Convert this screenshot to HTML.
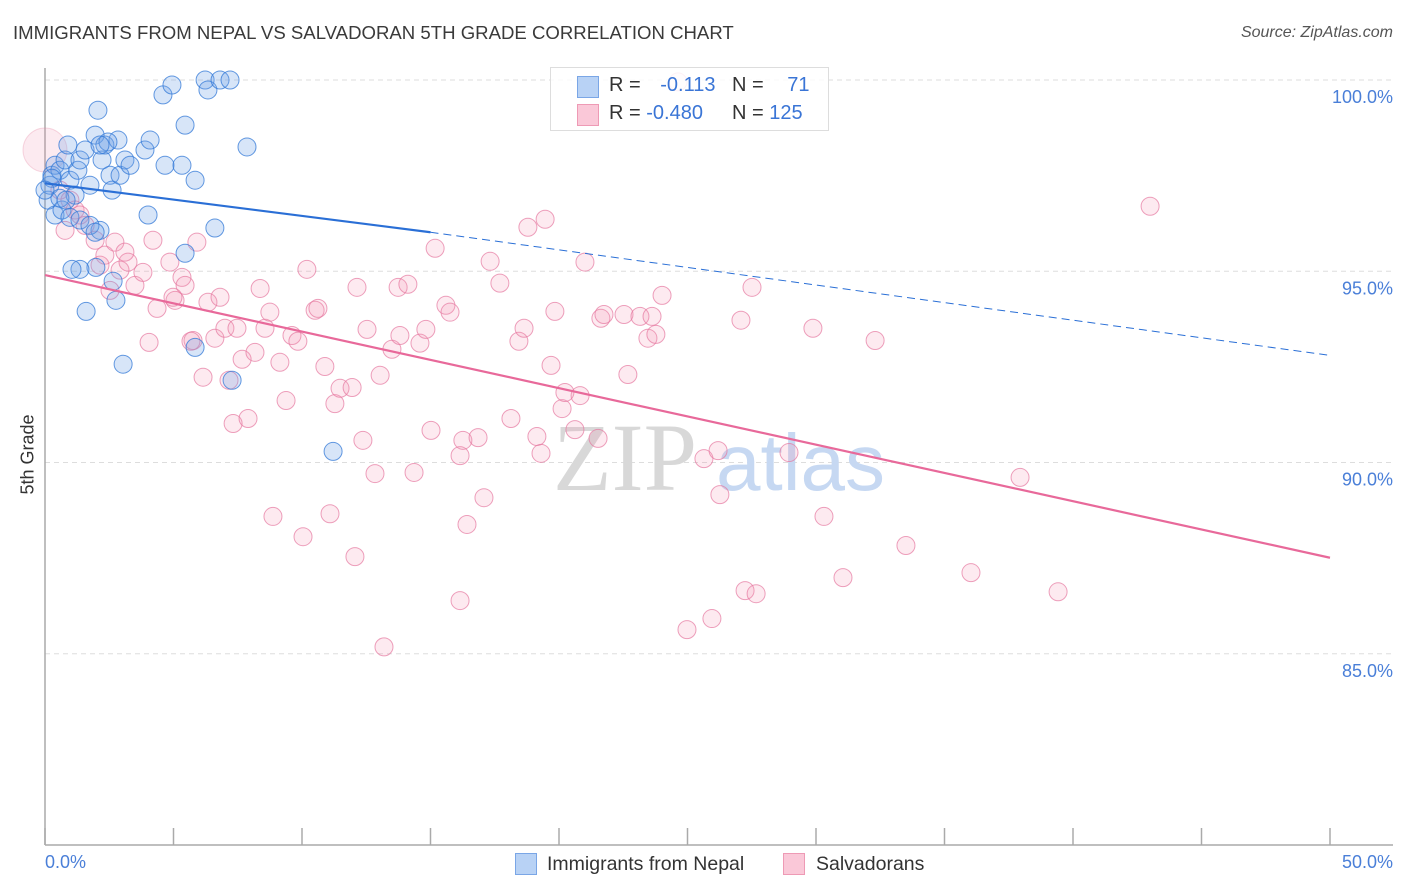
<!DOCTYPE html>
<html><head><meta charset="utf-8"><style>
body{margin:0;background:#fff;font-family:"Liberation Sans",sans-serif}
#c{position:relative;width:1406px;height:892px;overflow:hidden}
</style></head><body>
<div id="c">
<svg id="s" width="1406" height="892" xmlns="http://www.w3.org/2000/svg"></svg>
</div>
<script>
const blueX=[0.12,0.19,0.27,0.39,0.58,0.78,0.89,0.97,1.17,1.28,1.36,1.56,1.75,1.95,2.06,2.14,2.22,2.33,2.53,2.61,2.84,2.92,3.11,3.31,3.89,4.09,4.01,4.67,4.59,4.94,5.45,5.33,5.84,6.23,6.34,6.81,7.20,7.86,6.61,5.45,5.84,7.28,3.04,1.60,2.76,2.65,1.98,1.36,1.05,11.21,0.39,0.66,0.97,1.36,1.75,1.95,0.58,0.82,2.45,2.14,0.27,0.0];
const blueY=[96.86,97.25,97.51,97.77,97.64,97.91,98.30,97.38,96.99,97.64,97.91,98.17,97.25,98.56,99.21,96.07,97.91,98.30,97.51,97.12,98.43,97.51,97.91,97.77,98.17,98.43,96.47,97.77,99.61,99.87,98.82,97.77,97.38,100.0,99.74,100.0,100.0,98.25,96.13,95.47,93.01,92.15,92.57,93.95,94.24,94.74,95.10,95.05,95.05,90.29,96.47,96.60,96.41,96.34,96.20,96.02,96.91,96.86,98.38,98.30,97.43,97.12];
const pinkX=[0.58,0.97,1.17,1.36,1.56,1.95,2.14,2.33,2.72,2.92,3.23,3.50,3.81,4.20,4.36,4.86,5.06,5.33,5.45,5.76,5.91,6.15,6.34,6.61,6.81,7.00,7.47,7.67,7.32,7.90,8.17,8.37,8.56,8.75,9.14,9.38,9.61,9.84,10.19,10.51,10.62,10.89,11.28,11.48,11.95,12.14,12.37,12.53,12.84,13.04,13.50,13.74,13.81,14.12,14.36,14.59,14.82,15.02,15.18,15.60,15.76,16.15,16.26,16.42,16.85,17.08,17.32,17.70,18.13,18.44,18.64,18.79,19.14,19.30,19.46,19.69,19.84,20.12,20.23,20.62,20.82,21.01,21.52,21.63,21.75,22.53,22.68,23.15,23.46,23.62,23.77,24.01,24.98,25.64,25.95,26.19,26.26,27.08,27.24,27.51,27.67,28.95,29.88,30.31,31.05,32.30,33.50,36.03,37.94,39.42,43.00,12.06,13.19,16.15,10.04,8.87,11.09,4.05,5.68,7.16,4.98,2.53,3.11,0.78,24.63];
const pinkY=[97.12,96.86,96.60,96.47,96.20,95.81,95.16,95.42,95.76,95.03,95.24,94.63,94.97,95.81,94.03,95.24,94.24,94.84,94.63,93.19,95.76,92.23,94.19,93.25,94.32,93.51,93.51,92.70,91.02,91.15,92.88,94.55,93.51,93.93,92.62,91.62,93.32,93.17,95.05,93.98,94.03,92.51,91.54,91.94,91.96,94.58,90.58,93.48,89.71,92.28,92.96,94.58,93.32,94.66,89.74,93.12,93.48,90.84,95.60,94.11,93.93,90.18,90.58,88.38,90.65,89.08,95.26,94.69,91.15,93.17,93.51,96.15,90.68,90.24,96.36,92.54,93.95,91.41,91.83,90.86,91.75,95.24,90.63,93.77,93.87,93.87,92.30,93.82,93.25,93.82,93.35,94.37,85.63,90.10,85.92,90.31,89.16,93.72,86.65,94.58,86.57,90.26,93.51,88.59,86.99,93.19,87.83,87.12,89.61,86.62,96.70,87.54,85.18,86.39,88.06,88.59,88.66,93.14,93.17,92.15,94.32,94.50,95.50,96.07,99.95];
const yTicks=[100,95,90,85];
const yTickLabels=["100.0%","95.0%","90.0%","85.0%"];
const blueTrend=[[0,97.30],[15,96.02],[50,92.80]];
const pinkTrend=[[0,94.90],[50,87.51]];

const NS="http://www.w3.org/2000/svg";
const s=document.getElementById('s');
const X0=45,X1=1330,Y0=845,Ytop=80;
const xs=v=>X0+(v/50)*(X1-X0);
const ys=v=>Y0-(v-80)/20*(Y0-Ytop);
function mk(t,a,p){const e=document.createElementNS(NS,t);for(const k in a)e.setAttribute(k,a[k]);(p||s).appendChild(e);return e;}
let g,e;
yTicks.forEach((t,i)=>{
 e=mk('line',{x1:X0,x2:1393,y1:ys(t),y2:ys(t),stroke:'#ddd','stroke-dasharray':'5,4','stroke-width':1});
 
 
 e=mk('text',{x:1393,y:ys(t)+23,'text-anchor':'end',fill:'#4a7fd8','font-size':18,'font-family':'Liberation Sans, sans-serif'});
 e.textContent=yTickLabels[i];
 
 
});
e=mk('line',{x1:X0,x2:X0,y1:68,y2:Y0,stroke:'#aaa','stroke-width':1.5});


e=mk('line',{x1:X0,x2:1393,y1:Y0,y2:Y0,stroke:'#aaa','stroke-width':1.5});


for(let i=0;i<=10;i++){e=mk('line',{x1:xs(i*5),x2:xs(i*5),y1:828,y2:Y0,stroke:'#aaa','stroke-width':1.5});
 
 }
e=mk('text',{x:553,y:490,fill:'#d8d8d8','font-size':96,'font-family':'Liberation Serif, serif'});e.textContent='ZIP';


e=mk('text',{x:716,y:490,fill:'#c6d8f2','font-size':80,'font-family':'Liberation Sans, sans-serif'});e.textContent='atlas';


g=mk('g',{});


e=mk('circle',{cx:xs(0),cy:ys(98.17),r:22,fill:'rgba(240,140,170,0.18)',stroke:'rgba(230,130,160,0.3)'},g);


pinkX.forEach((v,i)=>{e=mk('circle',{cx:xs(v),cy:ys(pinkY[i]),r:9,fill:'rgba(245,150,180,0.2)',stroke:'rgba(230,120,160,0.7)','stroke-width':1},g);
 
 });
g=mk('g',{});


blueX.forEach((v,i)=>{e=mk('circle',{cx:xs(v),cy:ys(blueY[i]),r:9,fill:'rgba(110,160,230,0.28)',stroke:'rgba(50,120,215,0.75)','stroke-width':1},g);
 
 });
e=mk('line',{x1:xs(blueTrend[0][0]),y1:ys(blueTrend[0][1]),x2:xs(blueTrend[1][0]),y2:ys(blueTrend[1][1]),stroke:'#2a6fd6','stroke-width':2.2});


e=mk('line',{x1:xs(blueTrend[1][0]),y1:ys(blueTrend[1][1]),x2:xs(blueTrend[2][0]),y2:ys(blueTrend[2][1]),stroke:'#2a6fd6','stroke-width':1,'stroke-dasharray':'8,5'});


e=mk('line',{x1:xs(pinkTrend[0][0]),y1:ys(pinkTrend[0][1]),x2:xs(pinkTrend[1][0]),y2:ys(pinkTrend[1][1]),stroke:'#e8699a','stroke-width':2.2});


</script>
<div style="position:absolute;left:13px;top:22px;font-size:18.6px;color:#3a3a3a;white-space:nowrap">IMMIGRANTS FROM NEPAL VS SALVADORAN 5TH GRADE CORRELATION CHART</div>
<div style="position:absolute;right:13px;top:24px;font-size:16px;color:#555;font-style:italic">Source: ZipAtlas.com</div>
<div style="position:absolute;left:-22px;top:444px;width:100px;text-align:center;transform:rotate(-90deg);font-size:18px;color:#333;white-space:nowrap">5th Grade</div>
<div style="position:absolute;left:45px;top:852px;font-size:18px;color:#4a7fd8">0.0%</div>
<div style="position:absolute;right:13px;top:852px;font-size:18px;color:#4a7fd8">50.0%</div>
<div style="position:absolute;left:550px;top:67px;width:277px;height:62px;border:1px solid #ddd;background:rgba(255,255,255,0.85);font-size:20px;color:#333">
 <div style="position:absolute;left:26px;top:8px;width:20px;height:20px;background:#b8d2f5;border:1px solid #7aa6e6"></div>
 <div style="position:absolute;left:58px;top:6px">R = <span style="color:#3a75d6;margin-left:14px">-0.113</span></div>
 <div style="position:absolute;left:181px;top:6px">N = <span style="color:#3a75d6;margin-left:18px">71</span></div>
 <div style="position:absolute;left:26px;top:36px;width:20px;height:20px;background:#fac8d8;border:1px solid #ee9ab5"></div>
 <div style="position:absolute;left:58px;top:34px">R = <span style="color:#3a75d6">-0.480</span></div>
 <div style="position:absolute;left:181px;top:34px">N = <span style="color:#3a75d6">125</span></div>
</div>
<div style="position:absolute;left:515px;top:853px;font-size:19.5px;color:#333">
 <span style="position:absolute;left:0;top:0;width:20px;height:20px;background:#b8d2f5;border:1px solid #7aa6e6"></span>
 <span style="position:absolute;left:32px;top:0;white-space:nowrap">Immigrants from Nepal</span></div>
<div style="position:absolute;left:783px;top:853px;font-size:19.5px;color:#333">
 <span style="position:absolute;left:0;top:0;width:20px;height:20px;background:#fac8d8;border:1px solid #ee9ab5"></span>
 <span style="position:absolute;left:33px;top:0;white-space:nowrap">Salvadorans</span></div>
</body></html>
